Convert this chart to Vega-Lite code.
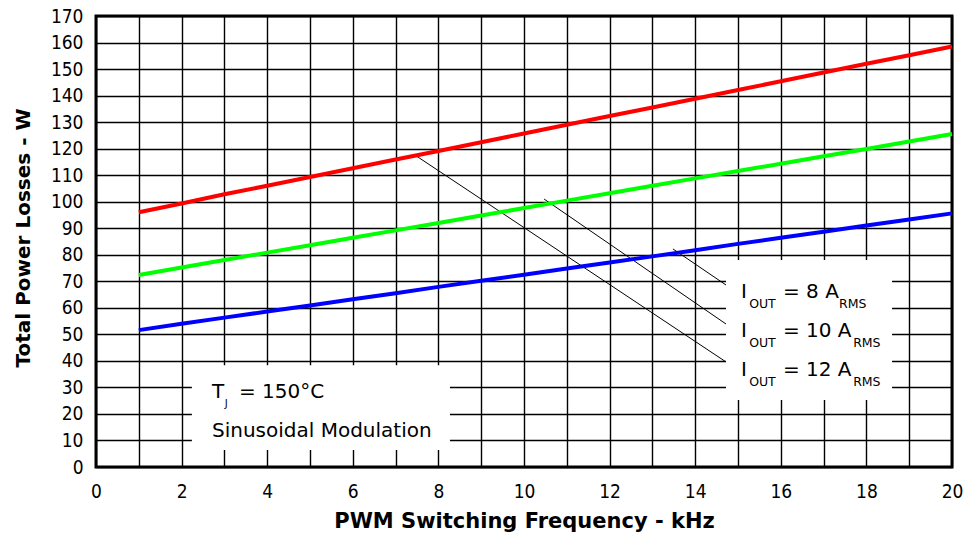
{
  "$schema": "https://vega.github.io/schema/vega-lite/v6.json",
  "width": 856,
  "height": 451,
  "autosize": "none",
  "padding": {"left": 96, "top": 16, "right": 14, "bottom": 70},
  "background": "white",
  "config": {
    "view": {"stroke": "black", "strokeWidth": 3},
    "axis": {
      "grid": true,
      "gridColor": "black",
      "gridOpacity": 1,
      "gridWidth": 1.4,
      "domain": false,
      "ticks": false,
      "labelFont": "DejaVu Sans Condensed, DejaVu Sans",
      "labelFontSize": 19,
      "labelColor": "black",
      "titleFont": "DejaVu Sans",
      "titleFontSize": 20,
      "titleFontWeight": "bold",
      "titleColor": "black"
    }
  },
  "datasets": {
    "curves": [
      {"series": "8 A", "x": 1, "y": 51.6}, {"series": "8 A", "x": 2, "y": 54.0}, {"series": "8 A", "x": 3, "y": 56.3}, {"series": "8 A", "x": 4, "y": 58.6}, {"series": "8 A", "x": 5, "y": 60.9}, {"series": "8 A", "x": 6, "y": 63.2}, {"series": "8 A", "x": 7, "y": 65.5}, {"series": "8 A", "x": 8, "y": 67.9}, {"series": "8 A", "x": 9, "y": 70.2}, {"series": "8 A", "x": 10, "y": 72.5}, {"series": "8 A", "x": 11, "y": 74.8}, {"series": "8 A", "x": 12, "y": 77.1}, {"series": "8 A", "x": 13, "y": 79.4}, {"series": "8 A", "x": 14, "y": 81.7}, {"series": "8 A", "x": 15, "y": 84.1}, {"series": "8 A", "x": 16, "y": 86.4}, {"series": "8 A", "x": 17, "y": 88.7}, {"series": "8 A", "x": 18, "y": 91.0}, {"series": "8 A", "x": 19, "y": 93.3}, {"series": "8 A", "x": 20, "y": 95.6},
      {"series": "10 A", "x": 1, "y": 72.4}, {"series": "10 A", "x": 2, "y": 75.2}, {"series": "10 A", "x": 3, "y": 78.0}, {"series": "10 A", "x": 4, "y": 80.8}, {"series": "10 A", "x": 5, "y": 83.6}, {"series": "10 A", "x": 6, "y": 86.4}, {"series": "10 A", "x": 7, "y": 89.2}, {"series": "10 A", "x": 8, "y": 92.0}, {"series": "10 A", "x": 9, "y": 94.8}, {"series": "10 A", "x": 10, "y": 97.6}, {"series": "10 A", "x": 11, "y": 100.4}, {"series": "10 A", "x": 12, "y": 103.2}, {"series": "10 A", "x": 13, "y": 106.0}, {"series": "10 A", "x": 14, "y": 108.8}, {"series": "10 A", "x": 15, "y": 111.6}, {"series": "10 A", "x": 16, "y": 114.3}, {"series": "10 A", "x": 17, "y": 117.1}, {"series": "10 A", "x": 18, "y": 119.9}, {"series": "10 A", "x": 19, "y": 122.7}, {"series": "10 A", "x": 20, "y": 125.5},
      {"series": "12 A", "x": 1, "y": 96.0}, {"series": "12 A", "x": 2, "y": 99.3}, {"series": "12 A", "x": 3, "y": 102.8}, {"series": "12 A", "x": 4, "y": 106.0}, {"series": "12 A", "x": 5, "y": 109.3}, {"series": "12 A", "x": 6, "y": 112.6}, {"series": "12 A", "x": 7, "y": 115.9}, {"series": "12 A", "x": 8, "y": 119.1}, {"series": "12 A", "x": 9, "y": 122.4}, {"series": "12 A", "x": 10, "y": 125.7}, {"series": "12 A", "x": 11, "y": 129.0}, {"series": "12 A", "x": 12, "y": 132.3}, {"series": "12 A", "x": 13, "y": 135.5}, {"series": "12 A", "x": 14, "y": 138.8}, {"series": "12 A", "x": 15, "y": 142.1}, {"series": "12 A", "x": 16, "y": 145.4}, {"series": "12 A", "x": 17, "y": 148.7}, {"series": "12 A", "x": 18, "y": 152.0}, {"series": "12 A", "x": 19, "y": 155.2}, {"series": "12 A", "x": 20, "y": 158.5}
    ],
    "boxes": [
      {"x": 14.72, "x2": 18.6, "y": 25.3, "y2": 78.0},
      {"x": 2.24, "x2": 8.27, "y": 6.4, "y2": 38.4}
    ],
    "leaders": [
      {"x": 13.48, "y": 82.2, "x2": 14.72, "y2": 68.6},
      {"x": 10.47, "y": 101.0, "x2": 14.72, "y2": 53.9},
      {"x": 7.45, "y": 117.6, "x2": 14.72, "y2": 39.6}
    ],
    "mainText": [
      {"t": "I", "x": 15.07, "y": 63.7},
      {"t": "= 8 A", "x": 16.05, "y": 63.7},
      {"t": "I", "x": 15.07, "y": 49.0},
      {"t": "= 10 A", "x": 16.05, "y": 49.0},
      {"t": "I", "x": 15.07, "y": 34.3},
      {"t": "= 12 A", "x": 16.05, "y": 34.3},
      {"t": "T", "x": 2.71, "y": 26.0},
      {"t": "= 150°C", "x": 3.34, "y": 26.0},
      {"t": "Sinusoidal Modulation", "x": 2.71, "y": 11.3}
    ],
    "subText": [
      {"t": "OUT", "x": 15.26, "y": 59.9},
      {"t": "RMS", "x": 17.36, "y": 59.9},
      {"t": "OUT", "x": 15.26, "y": 45.2},
      {"t": "RMS", "x": 17.69, "y": 45.2},
      {"t": "OUT", "x": 15.26, "y": 30.5},
      {"t": "RMS", "x": 17.69, "y": 30.5}
    ],
    "tinyText": [
      {"t": "J", "x": 3.01, "y": 22.6}
    ]
  },
  "encoding": {
    "x": {
      "field": "x",
      "type": "quantitative",
      "scale": {"domain": [0, 20], "nice": false, "zero": false},
      "axis": {
        "title": "PWM Switching Frequency - kHz",
        "titleFontSize": 21,
        "values": [0,1,2,3,4,5,6,7,8,9,10,11,12,13,14,15,16,17,18,19,20],
        "labelExpr": "datum.value % 2 === 0 ? datum.label : ''",
        "labelOverlap": false,
        "labelFlush": false,
        "labelPadding": 15,
        "titleY": 60,
        "titleBaseline": "alphabetic"
      }
    },
    "y": {
      "field": "y",
      "type": "quantitative",
      "scale": {"domain": [0, 170], "nice": false},
      "axis": {
        "title": "Total Power Losses - W",
        "values": [0,10,20,30,40,50,60,70,80,90,100,110,120,130,140,150,160,170],
        "labelOverlap": false,
        "labelPadding": 13,
        "titleX": -67,
        "titleY": 221.5,
        "titleAngle": 270,
        "titleAlign": "center",
        "titleBaseline": "alphabetic"
      }
    }
  },
  "layer": [
    {
      "data": {"name": "boxes"},
      "mark": {"type": "rect", "fill": "white", "stroke": null},
      "encoding": {
        "x2": {"field": "x2"},
        "y2": {"field": "y2"}
      }
    },
    {
      "data": {"name": "leaders"},
      "mark": {"type": "rule", "color": "black", "strokeWidth": 1},
      "encoding": {
        "x2": {"field": "x2"},
        "y2": {"field": "y2"}
      }
    },
    {
      "data": {"name": "curves"},
      "mark": {"type": "line", "strokeWidth": 4},
      "encoding": {
        "color": {
          "field": "series",
          "type": "nominal",
          "scale": {"domain": ["8 A", "10 A", "12 A"], "range": ["#0000ff", "#00ff00", "#ff0000"]},
          "legend": null
        }
      }
    },
    {
      "data": {"name": "mainText"},
      "mark": {"type": "text", "align": "left", "baseline": "alphabetic", "font": "DejaVu Sans", "fontSize": 20, "color": "black"},
      "encoding": {"text": {"field": "t"}}
    },
    {
      "data": {"name": "subText"},
      "mark": {"type": "text", "align": "left", "baseline": "alphabetic", "font": "DejaVu Sans", "fontSize": 12.5, "color": "black"},
      "encoding": {"text": {"field": "t"}}
    },
    {
      "data": {"name": "tinyText"},
      "mark": {"type": "text", "align": "left", "baseline": "alphabetic", "font": "DejaVu Sans", "fontSize": 10, "color": "black"},
      "encoding": {"text": {"field": "t"}}
    }
  ]
}
